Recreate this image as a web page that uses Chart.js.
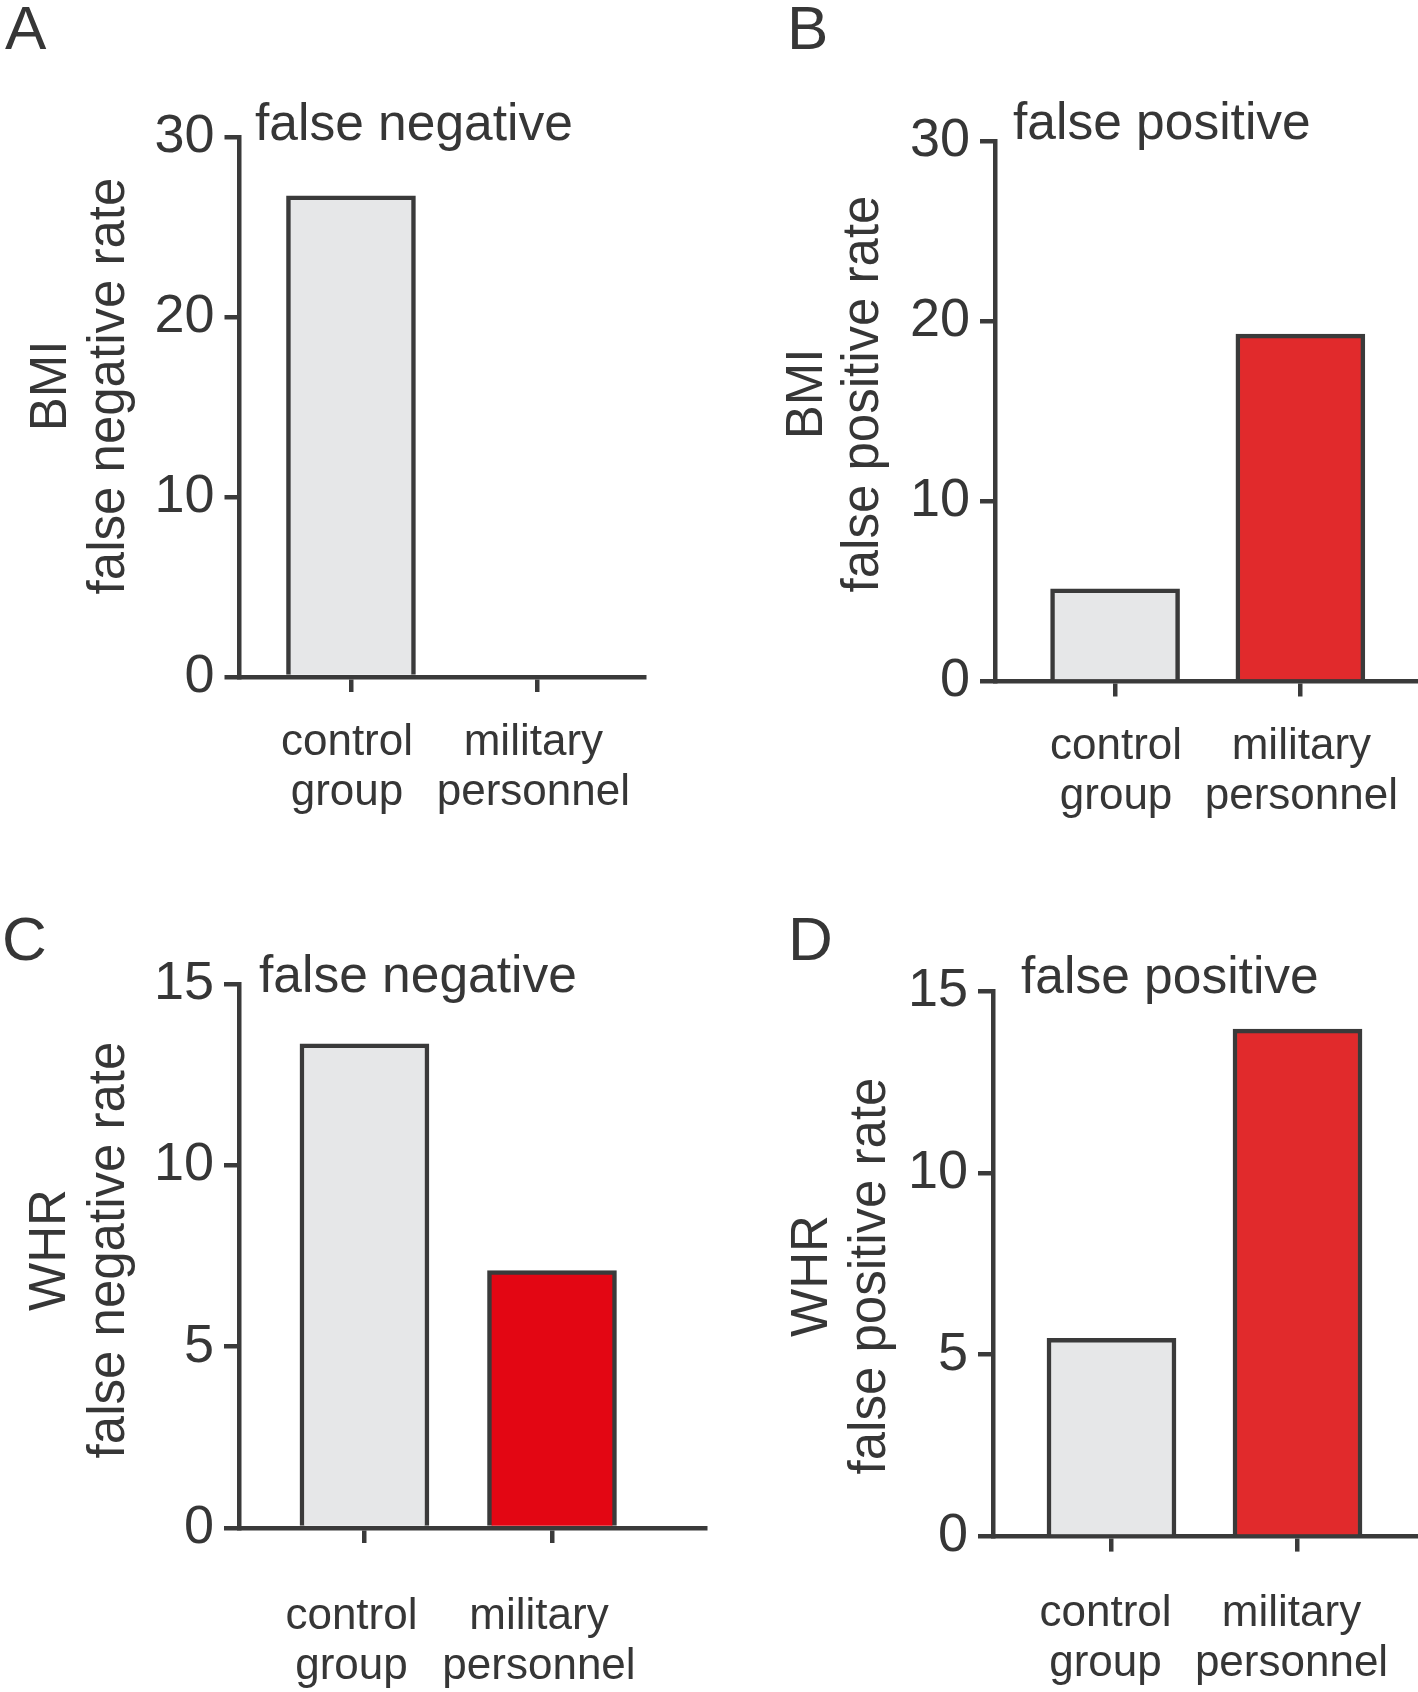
<!DOCTYPE html>
<html>
<head>
<meta charset="utf-8">
<script src="https://cdn.jsdelivr.net/npm/chart.js@4"></script>
<style>
html, body { margin: 0; padding: 0; background: #ffffff; }
#wrap { position: relative; width: 1418px; height: 1692px; overflow: hidden; }
canvas { position: absolute; }
</style>
</head>
<body>
<div id="wrap">
  <canvas id="cA" width="709" height="846" style="left:0px;top:0px"></canvas>
  <canvas id="cB" width="709" height="846" style="left:709px;top:0px"></canvas>
  <canvas id="cC" width="709" height="846" style="left:0px;top:846px"></canvas>
  <canvas id="cD" width="709" height="846" style="left:709px;top:846px"></canvas>
</div>
<script>
// ---------- data ----------
const categories = [["control", "group"], ["military", "personnel"]];
const bmiFalseNegative = [26.75, 0];
const bmiFalsePositive = [5.15, 19.3];
const whrFalseNegative = [13.35, 7.1];
const whrFalsePositive = [5.45, 13.95];
const bmiTicks = [0, 10, 20, 30];
const whrTicks = [0, 5, 10, 15];
const panelLetters = ["A", "B", "C", "D"];
const panelTitles = ["false negative", "false positive", "false negative", "false positive"];
const yTitlesA = ["BMI", "false negative rate"];
const yTitlesB = ["BMI", "false positive rate"];
const yTitlesC = ["WHR", "false negative rate"];
const yTitlesD = ["WHR", "false positive rate"];

// ---------- style ----------
const FONT = "'Liberation Sans', Arial, Helvetica, sans-serif";
const LINE = '#3a3a3a';
const TEXT = '#363636';
const GRAY = '#e6e7e8';
const RED_BRIGHT = '#e30613';
const RED = '#e12a2c';

const panelText = {
  id: 'panelText',
  afterDraw(chart, args, o) {
    const ctx = chart.ctx;
    ctx.save();
    ctx.fillStyle = TEXT;
    ctx.textAlign = 'left';
    ctx.textBaseline = 'alphabetic';
    ctx.font = '62px ' + FONT;
    ctx.fillText(o.letter, o.letterX, o.letterY);
    ctx.font = '51.5px ' + FONT;
    ctx.fillText(o.sub, o.subX, o.subY);
    ctx.font = '51px ' + FONT;
    ctx.textAlign = 'center';
    ctx.textBaseline = 'middle';
    o.ytitle.forEach((line, i) => {
      ctx.save();
      ctx.translate(o.ytX[i], o.ytY);
      ctx.rotate(-Math.PI / 2);
      ctx.fillText(line, 0, 0);
      ctx.restore();
    });
    ctx.restore();
  }
};

function panel(id, p) {
  const W = 709, H = 846;
  const xAxisH = H - p.area.bottom;
  const yTicks = p.yTicks;
  new Chart(document.getElementById(id), {
    type: 'bar',
    data: {
      datasets: [{
        data: p.values.map((v, i) => ({ x: i, y: v })),
        backgroundColor: p.colors,
        borderColor: LINE,
        borderWidth: 4.5,
        borderSkipped: 'start',
        barThickness: 129
      }]
    },
    options: {
      responsive: false,
      animation: false,
      layout: { padding: { left: 0, top: p.area.top, right: W - p.area.right, bottom: 0 } },
      plugins: { legend: { display: false }, tooltip: { enabled: false }, panelText: p.text },
      scales: {
        x: {
          type: 'linear', min: p.xMin, max: p.xMax, z: 1, offset: false,
          afterBuildTicks: s => { s.ticks = categories.map((c, i) => ({ value: i })); },
          afterFit: s => { s.height = xAxisH; s.paddingLeft = 0; s.paddingRight = 0; },
          grid: { offset: false, drawOnChartArea: false, drawTicks: true, tickLength: 15, tickWidth: 4.5, tickColor: LINE, color: LINE, lineWidth: 4.5 },
          border: { display: true, color: LINE, width: 4.5 },
          ticks: {
            autoSkip: false, maxRotation: 0, minRotation: 0, padding: p.xPad, labelOffset: p.labelOffset,
            color: TEXT, font: { family: FONT, size: 44, lineHeight: 1.14 },
            callback: v => categories[v]
          }
        },
        y: {
          type: 'linear', min: yTicks[0], max: yTicks[yTicks.length - 1], z: 1,
          afterBuildTicks: s => { s.ticks = yTicks.map(v => ({ value: v })); },
          afterFit: s => { s.width = p.area.left; s.paddingTop = 0; s.paddingBottom = 0; },
          grid: { drawOnChartArea: false, drawTicks: true, tickLength: 15, tickWidth: 4.5, tickColor: LINE, color: LINE, lineWidth: 4.5 },
          border: { display: true, color: LINE, width: 4.5 },
          ticks: { padding: 10, color: TEXT, font: { family: FONT, size: 54 }, callback: v => String(v) }
        }
      }
    },
    plugins: [panelText]
  });
}

panel('cA', {
  values: bmiFalseNegative, colors: [GRAY, RED], yTicks: bmiTicks,
  area: { left: 239.5, right: 644, top: 137.5, bottom: 677 },
  xMin: -0.598, xMax: 1.572, xPad: 26, labelOffset: -4,
  text: { letter: panelLetters[0], letterX: 5, letterY: 48.6, sub: panelTitles[0], subX: 255, subY: 140, ytitle: yTitlesA, ytX: [51.6, 110], ytY: 386 }
});
panel('cB', {
  values: bmiFalsePositive, colors: [GRAY, RED], yTicks: bmiTicks,
  area: { left: 286, right: 707, top: 141.5, bottom: 681.5 },
  xMin: -0.648, xMax: 1.624, xPad: 25, labelOffset: 1,
  text: { letter: panelLetters[1], letterX: 78, letterY: 48.6, sub: panelTitles[1], subX: 304, subY: 139, ytitle: yTitlesB, ytX: [98.5, 155], ytY: 394 }
});
panel('cC', {
  values: whrFalseNegative, colors: [GRAY, RED_BRIGHT], yTicks: whrTicks,
  area: { left: 239, right: 705, top: 138, bottom: 682 },
  xMin: -0.669, xMax: 1.816, xPad: 49, labelOffset: -13,
  text: { letter: panelLetters[2], letterX: 2, letterY: 114, sub: panelTitles[2], subX: 259, subY: 146, ytitle: yTitlesC, ytX: [50.6, 110], ytY: 404 }
});
panel('cD', {
  values: whrFalsePositive, colors: [GRAY, RED], yTicks: whrTicks,
  area: { left: 284, right: 707, top: 145, bottom: 690.6 },
  xMin: -0.637, xMax: 1.637, xPad: 37, labelOffset: -6,
  text: { letter: panelLetters[3], letterX: 79, letterY: 114, sub: panelTitles[3], subX: 312, subY: 147, ytitle: yTitlesD, ytX: [103.5, 161.5], ytY: 430 }
});
</script>
</body>
</html>
